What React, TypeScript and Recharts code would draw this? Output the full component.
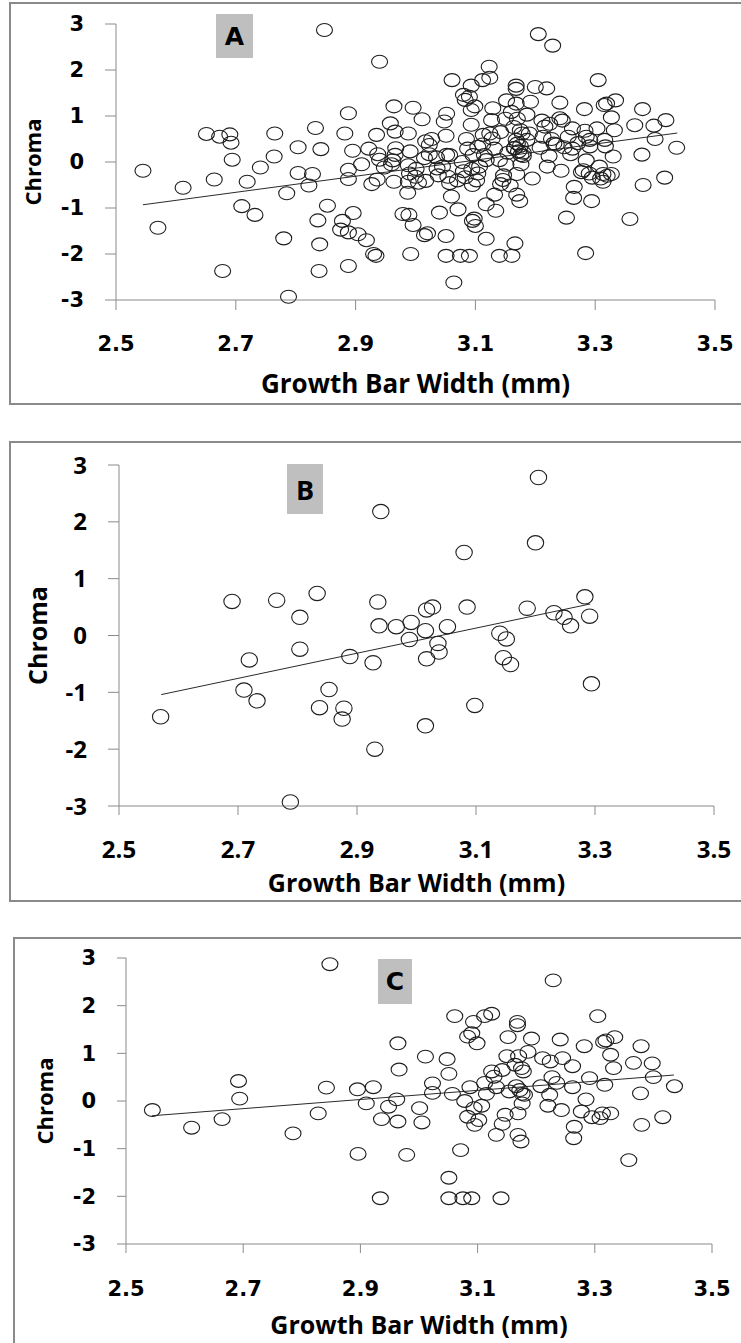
import React from 'react';
import { ScatterChart, Scatter, XAxis, YAxis, ReferenceLine } from 'recharts';

type Pt = { x: number; y: number };
const pts = (rows: number[][]): Pt[] => rows.map(([x, y]) => ({ x, y }));

const xTicks = [2.5, 2.7, 2.9, 3.1, 3.3, 3.5];
const yTicks = [-3, -2, -1, 0, 1, 2, 3];

// panel B samples
const groupB = pts([
  [3.205, 2.78], [2.94, 2.18], [3.2, 1.63], [3.08, 1.46], [2.69, 0.6], [2.765, 0.62],
  [2.833, 0.74], [2.804, 0.32], [2.935, 0.59], [3.017, 0.45], [3.027, 0.5], [3.085, 0.5],
  [3.186, 0.48], [3.283, 0.68], [3.231, 0.4], [3.248, 0.32], [3.259, 0.17], [3.291, 0.34],
  [2.937, 0.17], [2.966, 0.155], [2.991, 0.23], [3.015, 0.085], [3.052, 0.155], [2.988, -0.07],
  [3.036, -0.14], [3.038, -0.29], [3.017, -0.41], [3.14, 0.04], [3.151, -0.06], [3.146, -0.39],
  [3.158, -0.51], [3.294, -0.85], [2.804, -0.24], [2.719, -0.43], [2.888, -0.37], [2.927, -0.48],
  [2.71, -0.96], [2.732, -1.15], [2.853, -0.95], [2.837, -1.27], [2.878, -1.28], [2.875, -1.47],
  [3.098, -1.23], [2.57, -1.43], [3.015, -1.59], [2.93, -2.0], [2.788, -2.93],
]);

// panel C samples
const groupC = pts([
  [2.848, 2.87], [3.229, 2.53],
  [2.545, -0.19], [2.612, -0.56], [2.664, -0.38], [2.692, 0.42], [2.694, 0.05], [2.785, -0.68],
  [2.828, -0.26], [2.842, 0.28], [2.895, 0.245], [2.922, 0.29], [2.91, -0.05], [2.936, -0.38],
  [2.948, -0.12], [2.962, 0.035], [2.964, -0.43], [2.964, 1.21], [2.966, 0.66], [2.896, -1.11],
  [2.979, -1.13], [2.934, -2.04], [3.001, -0.15], [3.005, -0.45], [3.011, 0.93], [3.023, 0.37],
  [3.023, 0.17], [3.048, 0.88], [3.051, 0.57], [3.057, 0.15], [3.061, 1.78], [3.071, -1.03],
  [3.051, -1.61], [3.051, -2.04], [3.075, -2.04], [3.09, -2.04], [3.14, -2.04], [3.078, 0.0],
  [3.083, -0.33], [3.087, 0.29], [3.083, 1.35], [3.09, 1.42], [3.093, 1.66], [3.099, 1.21],
  [3.094, -0.15], [3.095, -0.5], [3.102, -0.4], [3.107, -0.1], [3.112, 1.78], [3.124, 1.83],
  [3.115, 0.15], [3.112, 0.38], [3.124, 0.62], [3.128, 0.51], [3.132, 0.29], [3.132, -0.71],
  [3.142, -0.48], [3.147, -0.29], [3.142, 0.65], [3.15, 0.94], [3.152, 1.34], [3.154, 0.2],
  [3.164, 0.76], [3.166, 0.31], [3.168, 1.66], [3.168, 1.59], [3.17, 0.94], [3.169, -0.26],
  [3.169, -0.71], [3.174, -0.85], [3.172, 0.23], [3.176, 0.15], [3.176, -0.05], [3.178, 0.62],
  [3.175, 0.69], [3.18, 0.13], [3.186, 1.03], [3.192, 1.31], [3.211, 0.9], [3.208, 0.31],
  [3.22, -0.1], [3.224, 0.83], [3.223, 0.13], [3.227, 0.5], [3.235, 0.38], [3.241, 1.29],
  [3.243, -0.19], [3.245, 0.9], [3.262, 0.73], [3.262, 0.29], [3.265, -0.54], [3.264, -0.78],
  [3.277, -0.22], [3.282, 1.15], [3.285, 0.035], [3.291, 0.48], [3.295, -0.34], [3.305, 1.78],
  [3.309, -0.36], [3.313, -0.26], [3.315, 1.24], [3.319, 1.27], [3.317, 0.34], [3.327, -0.26],
  [3.327, 0.97], [3.334, 1.34], [3.332, 0.69], [3.358, -1.24], [3.366, 0.8], [3.378, 0.16],
  [3.38, -0.5], [3.379, 1.15], [3.398, 0.79], [3.4, 0.5], [3.416, -0.34], [3.436, 0.31],
]);

// samples that appear only in the pooled panel A
const onlyInA = pts([
  [2.651, 0.61], [2.673, 0.55], [2.741, -0.12], [2.764, 0.12], [2.822, -0.51], [2.888, 1.06],
  [2.882, 0.62], [2.888, -0.17], [2.678, -2.37], [2.78, -1.66], [2.84, -1.79], [2.839, -2.37],
  [2.888, -1.53], [2.904, -1.57], [2.888, -2.26], [2.918, -1.7], [3.064, -2.62], [2.992, -2.0],
  [3.161, -2.04], [3.166, -1.77], [3.284, -1.98], [3.252, -1.21], [3.02, -1.55], [3.118, -1.67],
  [3.1, -1.39], [3.118, -0.92], [3.134, -1.06], [3.06, -0.75], [3.04, -1.1], [2.996, -1.37],
  [2.987, -0.67], [3.195, -0.36], [3.28, -0.18], [3.32, -0.3], [3.123, 2.07], [3.219, 1.6],
  [2.996, 1.18], [3.418, 0.91], [3.303, 0.73], [3.316, 0.48], [3.241, 0.95], [3.129, 1.17],
  [3.127, 0.91], [2.958, 0.84], [2.967, 0.3], [2.988, 0.62], [2.99, -0.25], [3.0, -0.32],
  [3.035, 0.1], [3.045, -0.1], [3.093, 1.13], [3.093, 0.81], [3.113, 0.59], [3.104, 0.33],
  [3.096, 0.15], [3.168, 1.27], [3.16, 1.09], [3.168, 0.48], [3.19, 0.62], [3.213, 0.55],
  [3.216, 0.77], [3.255, 0.55], [3.271, 0.41], [3.285, 0.55], [3.104, -0.25], [3.118, 0.04],
  [3.29, -0.25], [3.307, -0.1], [3.33, 0.12], [2.988, -0.43], [3.054, -0.32], [3.057, -0.46],
  [3.165, 0.3], [3.175, 0.35], [3.18, 0.2], [3.17, 0.4], [2.94, 0.05], [2.96, -0.05],
  [3.07, -0.4], [3.08, -0.2], [3.052, 1.05], [3.313, -0.43], [2.989, -1.15], [3.095, -1.28],
]);

const groupA = [...groupB, ...groupC, ...onlyInA];

// fitted lines, start and end
const trendA = pts([[2.545, -0.93], [3.437, 0.63]]);
const trendB = pts([[2.571, -1.04], [3.292, 0.555]]);
const trendC = pts([[2.544, -0.31], [3.435, 0.545]]);

const AXIS = '#8a8a8a';
const TITLE_FONT = '"Open Sans", sans-serif';
const WIDE_FONT = '"DejaVu Sans", sans-serif';

const ring = (rx: number, ry: number) => (p: any) =>
  p.cx == null ? <g /> : (
    <ellipse cx={p.cx} cy={p.cy} rx={rx} ry={ry} fill="none" stroke="#1e1e1e" strokeWidth={1.1} />
  );

interface PanelProps {
  data: Pt[];
  trend: Pt[];
  top: number;
  height: number;
  margin: { top: number; right: number; bottom: number; left: number };
  yWidth: number;
  xHeight: number;
  tickFont: string;
  tickSize: number;
  yTickLen: number;
  yTickGap: number;
  xTickLen: number;
  xTickGap: number;
  xTitleSize: number;
  xTitleOffset: number;
  yTitleSize: number;
  yTitleOffset: number;
  rx: number;
  ry: number;
}

const Panel: React.FC<PanelProps> = (p) => {
  const tick = { fill: '#000', fontSize: p.tickSize, fontWeight: 700, fontFamily: p.tickFont };
  return (
    <div style={{ position: 'absolute', left: 0, top: p.top }}>
      <ScatterChart width={741} height={p.height} margin={p.margin}>
        <XAxis
          type="number"
          dataKey="x"
          domain={[2.5, 3.5]}
          ticks={xTicks}
          interval={0}
          tickFormatter={(v: number) => v.toFixed(1)}
          stroke={AXIS}
          tickSize={p.xTickLen}
          tickMargin={p.xTickGap}
          tick={tick}
          height={p.xHeight}
          label={{
            value: 'Growth Bar Width (mm)',
            position: 'insideBottom',
            offset: p.xTitleOffset,
            fill: '#000',
            fontSize: p.xTitleSize,
            fontWeight: 700,
            fontFamily: TITLE_FONT,
          }}
        />
        <YAxis
          type="number"
          dataKey="y"
          domain={[-3, 3]}
          ticks={yTicks}
          interval={0}
          stroke={AXIS}
          tickSize={p.yTickLen}
          tickMargin={p.yTickGap}
          tick={tick}
          width={p.yWidth}
          label={{
            value: 'Chroma',
            angle: -90,
            position: 'insideLeft',
            offset: p.yTitleOffset,
            fill: '#000',
            fontSize: p.yTitleSize,
            fontWeight: 700,
            fontFamily: TITLE_FONT,
            style: { textAnchor: 'middle' },
          }}
        />
        <ReferenceLine
          segment={[p.trend[0], p.trend[1]]}
          stroke="#2a2a2a"
          strokeWidth={1}
          ifOverflow="visible"
        />
        <Scatter data={p.data} shape={ring(p.rx, p.ry)} isAnimationActive={false} />
      </ScatterChart>
    </div>
  );
};

const Frame = ({ left, top, height }: { left: number; top: number; height: number }) => (
  <div
    style={{
      position: 'absolute',
      left,
      top,
      width: 760,
      height,
      border: `2px solid ${AXIS}`,
      boxSizing: 'border-box',
    }}
  />
);

const Tag = ({ text, left, top, w, h, font, size }: any) => (
  <div
    style={{
      position: 'absolute',
      left,
      top,
      width: w,
      height: h,
      background: '#bfbfbf',
      display: 'flex',
      alignItems: 'center',
      justifyContent: 'center',
      fontFamily: font,
      fontWeight: 700,
      fontSize: size,
      color: '#000',
    }}
  >
    {text}
  </div>
);

export default function App() {
  return (
    <div
      style={{
        position: 'absolute',
        left: 0,
        top: 0,
        width: 741,
        height: 1343,
        overflow: 'hidden',
        background: '#fff',
      }}
    >
      <Frame left={9} top={2} height={403} />
      <Frame left={9} top={441} height={461} />
      <Frame left={13} top={937} height={500} />

      <Panel
        data={groupA}
        trend={trendA}
        top={0}
        height={404}
        margin={{ top: 24, right: 26, bottom: 0, left: 0 }}
        yWidth={116}
        xHeight={104}
        tickFont={WIDE_FONT}
        tickSize={21}
        yTickLen={11}
        yTickGap={21}
        xTickLen={10}
        xTickGap={26}
        xTitleSize={26}
        xTitleOffset={11}
        yTitleSize={22}
        yTitleOffset={33}
        rx={8}
        ry={6.5}
      />
      <Panel
        data={groupB}
        trend={trendB}
        top={442}
        height={459}
        margin={{ top: 23, right: 27, bottom: 0, left: 0 }}
        yWidth={119}
        xHeight={95}
        tickFont={TITLE_FONT}
        tickSize={24}
        yTickLen={11}
        yTickGap={21}
        xTickLen={9}
        xTickGap={26}
        xTitleSize={25}
        xTitleOffset={9}
        yTitleSize={25}
        yTitleOffset={38}
        rx={8.2}
        ry={7.2}
      />
      <Panel
        data={groupC}
        trend={trendC}
        top={938}
        height={405}
        margin={{ top: 20, right: 29, bottom: 0, left: 0 }}
        yWidth={126}
        xHeight={99}
        tickFont={WIDE_FONT}
        tickSize={21}
        yTickLen={9}
        yTickGap={21}
        xTickLen={9}
        xTickGap={28}
        xTitleSize={25}
        xTitleOffset={9}
        yTitleSize={22}
        yTitleOffset={45}
        rx={8}
        ry={6.4}
      />

      <Tag text="A" left={216} top={14} w={37} h={44} font={WIDE_FONT} size={25} />
      <Tag text="B" left={287} top={464} w={36} h={50} font={TITLE_FONT} size={27} />
      <Tag text="C" left={378} top={959} w={34} h={45} font={WIDE_FONT} size={25} />
    </div>
  );
}
